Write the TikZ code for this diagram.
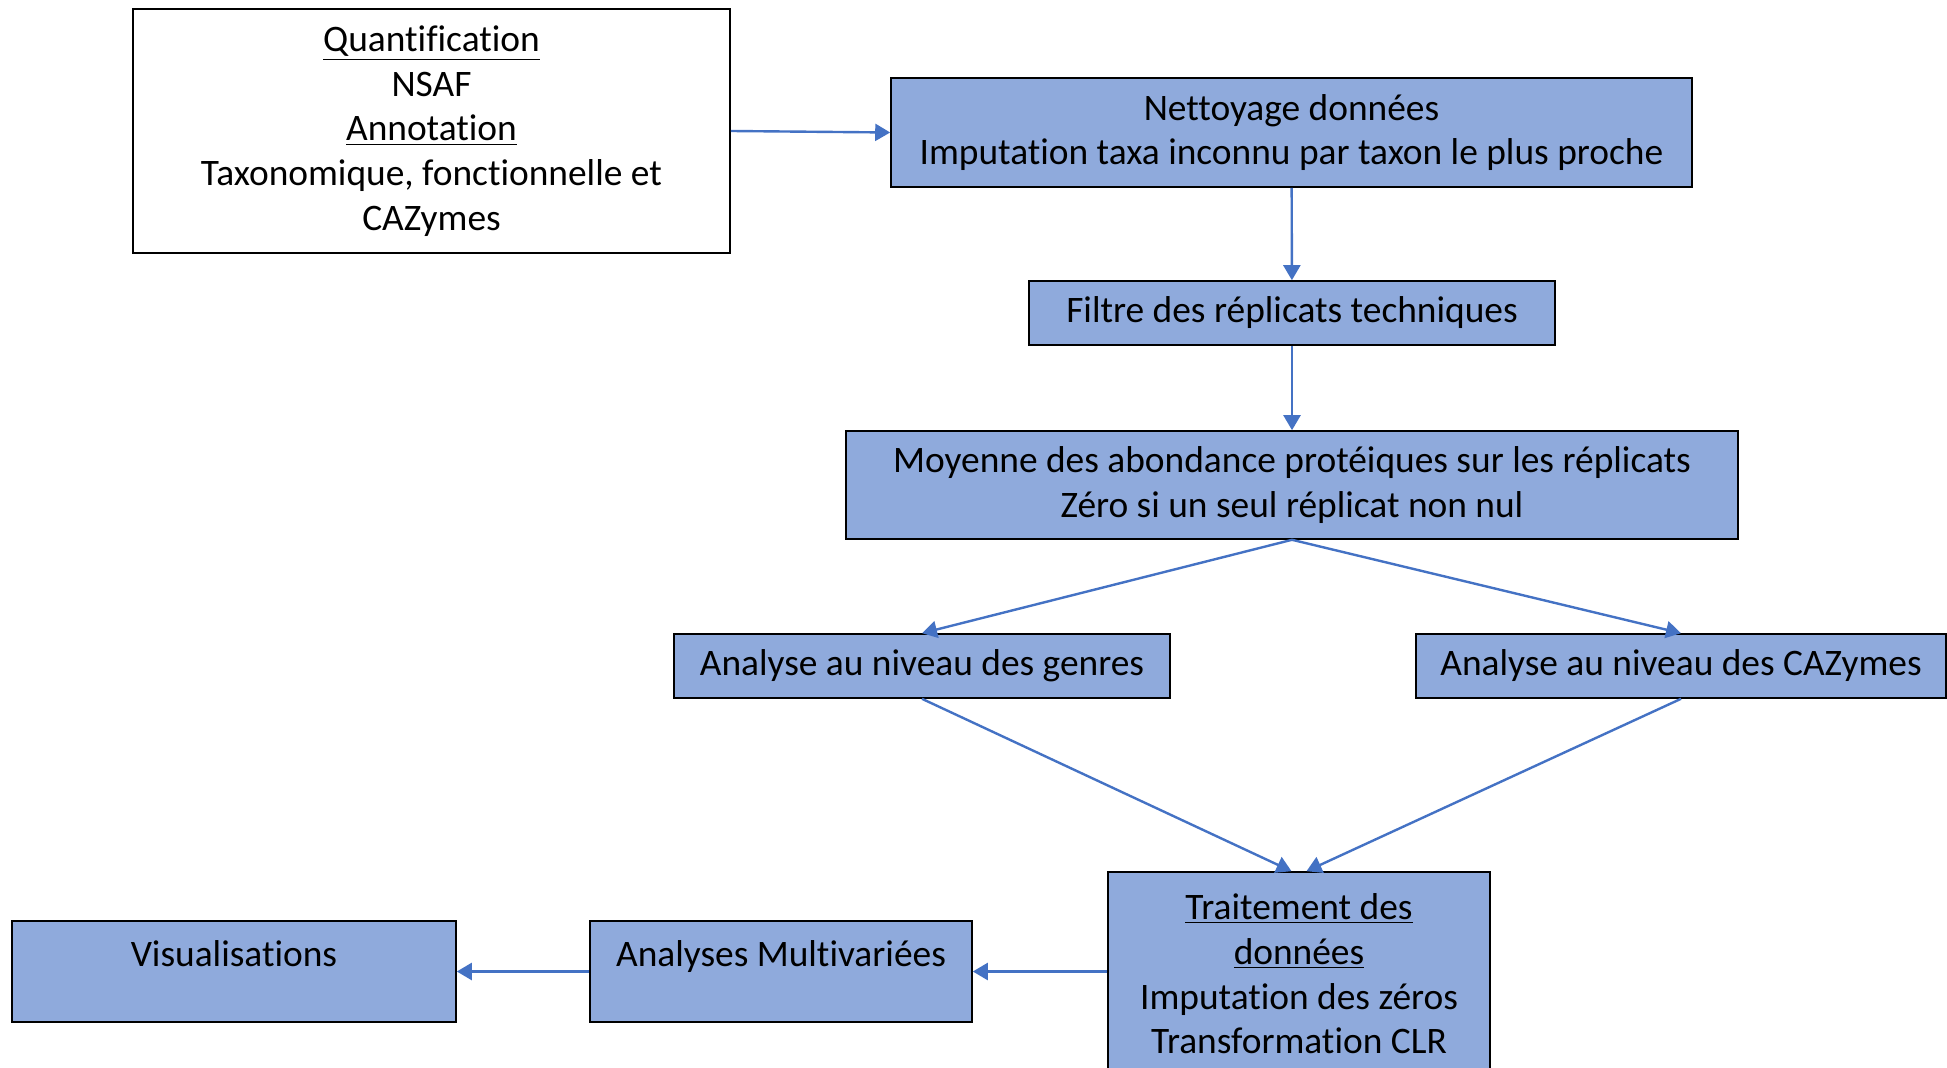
\documentclass[tikz,border=0pt]{standalone}
\usepackage{fontspec}
\setmainfont[Ligatures=NoCommon]{Carlito}
\usetikzlibrary{arrows.meta}
\definecolor{boxblue}{RGB}{143,170,220}
\definecolor{arrowblue}{RGB}{68,114,196}

\begin{document}
\begin{tikzpicture}[x=0.5pt,y=-0.5pt,
    every node/.style={font=\fontsize{18.7}{22.35}\selectfont, align=center, inner sep=0pt},
    etape/.style={draw=black, line width=0.8pt, fill=boxblue},
    entree/.style={draw=black, line width=0.8pt, fill=white},
    haut/.style={text height=22.5pt, text depth=28pt},
    fleche/.style={draw=arrowblue, line width=1.2pt, -{Triangle[width=8.5pt,length=7.5pt]}}]
    \useasboundingbox (0,0) rectangle (1947,1068); %Chaine de traitement

    \node[entree, minimum width=298.5pt, minimum height=122pt] (quanti) at (431.5,131)
        {\underline{Quantification}\\NSAF\\\underline{Annotation}\\Taxonomique, fonctionnelle et\\CAZymes};
    \node[etape, minimum width=400.5pt, minimum height=54.5pt] (nettoyage) at (1291.5,132.5)
        {Nettoyage données\\Imputation taxa inconnu par taxon le plus proche};
    \node[etape, minimum width=263pt, minimum height=32pt] (filtre) at (1292,313)
        {Filtre des réplicats techniques};
    \node[etape, minimum width=446pt, minimum height=54pt] (moyenne) at (1292,485)
        {Moyenne des abondance protéiques sur les réplicats\\Zéro si un seul réplicat non nul};
    \node[etape, minimum width=248pt, minimum height=32pt] (genres) at (922,666)
        {Analyse au niveau des genres};
    \node[etape, minimum width=265pt, minimum height=32pt] (cazymes) at (1681,666)
        {Analyse au niveau des CAZymes};
    \node[etape, minimum width=191pt, minimum height=102pt] (traitement) at (1299,974)
        {\underline{Traitement des}\\\underline{données}\\Imputation des zéros\\Transformation CLR};
    \node[etape, haut, minimum width=191pt] (multi) at (781,971.5)
        {Analyses Multivariées};
    \node[etape, haut, minimum width=222pt] (visu) at (234,971.5)
        {Visualisations};

    \draw[fleche] (quanti.east) -- (nettoyage.west);
    \draw[fleche] (nettoyage) -- (filtre);
    \draw[fleche] (filtre) -- (moyenne);
    \draw[fleche] (moyenne.south) -- (genres.north);
    \draw[fleche] (moyenne.south) -- (cazymes.north);
    \draw[fleche] (genres.south) -- ([xshift=-3.75pt]traitement.north);
    \draw[fleche] (cazymes.south) -- ([xshift=3.75pt]traitement.north);
    \draw[fleche] (traitement.west |- multi.east) -- (multi.east);
    \draw[fleche] (multi.west) -- (visu.east);
\end{tikzpicture}
\end{document}
